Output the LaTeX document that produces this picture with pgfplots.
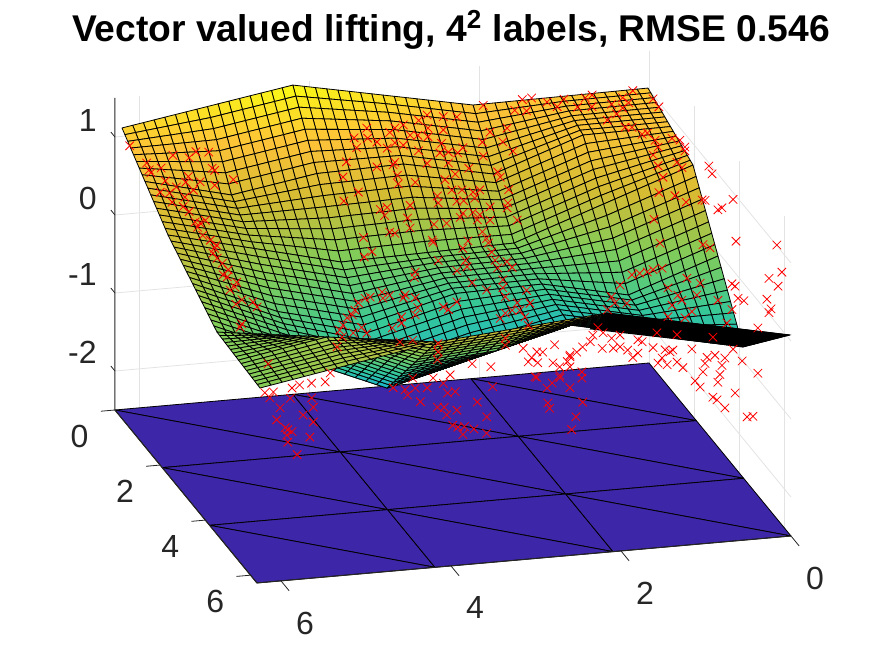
\documentclass[border=0pt]{standalone}
\usepackage{fontspec}
\setmainfont{Liberation Sans}
\usepackage{pgfplots}
\usepgfplotslibrary{patchplots}
\pgfplotsset{compat=1.18}
\definecolor{TickGray}{HTML}{262626}
\pgfplotsset{
  colormap={parula}{
    rgb255=(62,38,168) rgb255=(72,82,244) rgb255=(45,135,247) rgb255=(18,177,214)
    rgb255=(55,200,151) rgb255=(129,204,89) rgb255=(212,188,51) rgb255=(254,195,56)
    rgb255=(249,251,21)
  }
}
\begin{document}
\begin{tikzpicture}
\path[use as bounding box] (-324.5pt,84pt) rectangle (113pt,-244pt);
\begin{axis}[
  at={(0pt,0pt)},anchor=origin,
  disabledatascaling,clip=false,
  x={(-42.5pt,-3.74pt)},y={(11.3pt,-13.765pt)},z={(0pt,39pt)},
  xmin=0,xmax=6.283,ymin=0,ymax=6.283,zmin=-2.5,zmax=1.5,
  point meta min=-2.5,point meta max=1.465,
  xtick={0,2,4,6},ytick={0,2,4,6},ztick={-2,-1,0,1},
  zticklabels={{-2},{-1},{0},{1}},
  grid=major,major grid style={gray!22,line width=0.4pt},
  axis line style={draw=none},
  tick pos=left,tick align=outside,major tick length=6.5pt,
  tick style={draw=none},
  ticklabel style={font=\fontsize{16}{16}\selectfont,text=TickGray},
  x tick label style={xshift=4.5pt,yshift=-6.5pt},
  y tick label style={xshift=-3pt,yshift=-3.5pt},
  z tick label style={xshift=-1.5pt,yshift=0pt},
  /pgf/number format/assume math mode=true,
]
% label plane
\addplot3[patch,patch type=triangle,shader=faceted,faceted color=black,line width=0.4pt,
  table/row sep=\\,
  patch table={0 1 5\\0 4 5\\1 2 6\\1 5 6\\2 3 7\\2 6 7\\4 5 9\\4 8 9\\5 6 10\\5 9 10\\6 7 11\\6 10 11\\8 9 13\\8 12 13\\9 10 14\\9 13 14\\10 11 15\\10 14 15\\},
  point meta=\thisrow{z}]
  table[row sep=\\]{
  x y z\\
  6.283 0 -2.5\\4.189 0 -2.5\\2.094 0 -2.5\\0 0 -2.5\\
  6.283 2.094 -2.5\\4.189 2.094 -2.5\\2.094 2.094 -2.5\\0 2.094 -2.5\\
  6.283 4.189 -2.5\\4.189 4.189 -2.5\\2.094 4.189 -2.5\\0 4.189 -2.5\\
  6.283 6.283 -2.5\\4.189 6.283 -2.5\\2.094 6.283 -2.5\\0 6.283 -2.5\\
  };
% lifted surface, cells listed far to near
\addplot3[patch,patch type=bilinear,patch refines=3,shader=faceted,faceted color=black,line width=0.4pt,
  table/row sep=\\,
  patch table={
    5 6 13 12\\4 5 12 11\\12 13 20 19\\11 12 19 18\\
    3 4 11 10\\2 3 10 9\\10 11 18 17\\9 10 17 16\\
    1 2 9 8\\0 1 8 7\\8 9 16 15\\7 8 15 14\\
    19 20 27 26\\18 19 26 25\\26 27 34 33\\25 26 33 32\\
    17 18 25 24\\16 17 24 23\\24 25 32 31\\23 24 31 30\\
    15 16 23 22\\14 15 22 21\\22 23 30 29\\21 22 29 28\\
    33 34 41 40\\32 33 40 39\\40 41 48 47\\39 40 47 46\\
    31 32 39 38\\31 38 51 30\\39 46 52 38\\37 30 51 38\\37 38 45 44\\45 38 52 46\\
    29 30 37 36\\29 36 49 28\\37 44 50 36\\35 28 49 36\\35 36 43 42\\43 36 50 44\\},
  point meta=\thisrow{z}]
  table[row sep=\\]{
  x y z\\
  6.2 0 1.108\\5.195 0 1.2865\\4.19 0 1.465\\3.13 0 1.2355\\2.07 0 1.006\\1.041 0 1.016\\0.012 0 1.026\\
  6.207 1.045 0.791\\5.19 1.045 0.5205\\4.185 1.045 0.699\\3.167 1.045 0.723\\2.107 1.045 0.4935\\1.054 1.045 0.8925\\0.025 1.045 0.9025\\
  6.214 2.09 0.474\\5.197 2.09 0.2035\\4.179 2.09 -0.067\\3.161 2.09 -0.043\\2.143 2.09 -0.019\\1.09 2.09 0.38\\0.038 2.09 0.779\\
  6.205 3.14 0.2215\\5.205 3.14 -0.233\\4.188 3.14 -0.5035\\2.95 2.53 -0.4335\\1.93 2.53 -0.41\\1.076 3.14 -0.417\\0.023 3.14 -0.018\\
  6.196 4.19 -0.031\\5.196 4.19 -0.4855\\4.196 4.19 -0.94\\2.958 3.58 -0.87\\1.72 2.97 -0.8\\0.864 3.58 -0.8075\\0.008 4.19 -0.815\\
  6.222 5.237 -0.0175\\5.181 5.237 0.178\\4.18 5.237 -0.2765\\3.181 5.237 -0.1865\\1.943 4.627 -0.1165\\0.866 4.627 -0.361\\0.01 5.237 -0.3685\\
  6.247 6.283 -0.004\\5.206 6.283 0.1915\\4.165 6.283 0.387\\3.165 6.283 0.477\\2.165 6.283 0.567\\1.089 6.283 0.3225\\0.012 6.283 0.078\\
  5.6885 4.7135 0.0735\\4.673 5.76 0.2825\\3.6885 4.7135 -0.563\\2.673 5.76 0.19\\
  };
% edge-on part of the surface
\addplot3[fill=black,draw=black,line width=0.3pt] coordinates {(1.81,4.19,-0.416)(2.165,6.283,0.567)(0.012,6.283,0.078)(0.008,4.19,-0.815)};
% samples
\addplot3[only marks,mark=x,mark size=3pt,red,mark options={line width=0.38pt}] table {
6.11 0 .87
5.91 0 .63
5.88 0 .54
5.86 0 .50
5.74 0 .55
5.60 0 .70
5.41 0 .65
5.33 0 .72
5.18 0 .70
5.14 0 .49
5.11 0 .46
4.89 0 .32
5.11 0 .27
5.28 0 .33
5.42 0 .41
5.45 0 .34
5.69 0 .38
5.56 0 .29
5.75 0 .24
5.64 0 .22
5.36 0 .23
5.46 0 .15
5.61 0 .10
5.48 0 .03
5.41 0 -.04
5.34 0 -.18
5.28 0 -.20
5.22 0 -.17
5.31 0 -.25
5.25 0 -.36
5.16 0 -.43
5.11 0 -.54
5.13 0 -.60
5.08 0 -.67
5.09 0 -.50
5.02 0 -.74
4.95 0 -.83
5.01 0 -.89
4.96 0 -.92
4.85 0 -1.00
4.87 0 -1.06
4.93 0 -1.09
4.79 0 -1.23
4.86 0 -1.28
4.66 0 -1.27
4.61 0 -1.34
4.79 0 -1.54
4.81 0 -1.58
4.48 0 -2.08
3.67 0 -1.94
3.64 0 -1.73
3.55 0 -1.58
3.60 0 -1.67
3.60 0 .23
3.56 0 .42
3.59 0 -.08
3.47 0 .72
3.32 0 .83
3.31 0 .70
3.44 0 .59
3.20 0 .64
3.05 0 .75
2.99 0 .80
2.89 0 .83
3.08 0 .55
2.99 0 .61
2.89 0 .57
2.81 0 .69
2.72 0 .68
2.71 0 .87
2.61 0 .93
2.42 0 .89
2.26 0 .87
2.60 0 .76
2.60 0 .65
2.42 0 .72
2.71 0 .48
2.44 0 .55
2.46 0 .43
2.36 0 .43
2.25 0 .41
2.19 0 .47
2.36 0 .29
2.61 0 .31
2.99 0 .36
3.01 0 .33
2.96 0 .19
2.95 0 .08
2.75 0 .08
3.20 0 .32
3.42 0 .02
2.28 0 .14
2.40 0 .08
2.32 0 -.06
2.49 0 -.12
2.48 0 -.21
2.26 0 -.21
2.18 0 -.21
2.20 0 -.07
2.07 0 -.11
1.99 0 -.09
2.05 0 -.19
2.12 0 .20
3.16 0 -.23
3.08 0 -.21
3.11 0 -.31
2.81 0 -.21
2.84 0 -.37
2.81 0 -.50
3.05 0 -.53
2.99 0 -.55
3.36 0 -.57
2.53 0 -.48
2.38 0 -.48
2.55 0 -.68
2.22 0 -.42
2.19 0 -.37
2.07 0 -.37
1.99 0 -.41
2.02 0 -.47
1.87 0 -.32
1.87 0 -.49
1.96 0 -.63
1.91 0 -.72
2.13 0 -.73
1.95 0 .99
1.87 0 .64
1.96 0 .52
1.95 0 .34
1.67 0 .67
1.72 0 .50
1.60 0 .37
1.78 0 .12
1.75 0 .05
1.65 0 -.12
1.66 0 -.29
1.67 0 -.35
1.55 0 -.52
1.49 0 1.02
1.38 0 1.03
1.58 0 .89
1.44 0 .87
1.20 0 .96
1.08 0 .89
1.00 0 .98
.84 0 .86
.67 0 1.00
.75 0 .97
.44 0 .86
.31 0 .93
.24 0 .86
.31 0 .80
.67 0 .85
.19 0 1.01
.38 0 .73
.49 0 .66
.28 0 .55
.20 0 .54
.08 0 .44
.02 0 .45
0 .18 .95
0 .44 .94
0 .27 .45
0 .40 .41
0 .18 .23
0 1.02 .74
0 1.37 .84
0 1.59 .83
0 1.59 .78
0 1.24 .51
0 1.46 .52
0 .40 .17
0 .62 .10
0 .44 -.16
0 1.15 .05
0 1.64 .14
0 2.35 .42
0 2.48 .46
0 .22 -.58
0 .49 -.79
0 2.65 .96
0 2.79 .91
0 3.72 .91
0 3.05 .54
0 3.23 .63
0 3.85 .42
0 2.39 -.14
0 2.70 -.07
0 5.66 1.01
0 5.88 .74
0 5.31 .46
0 5.71 .50
0 3.67 -.19
0 3.81 -.17
0 3.94 -.28
0 4.20 -.22
0 5.22 .16
0 5.40 .10
0 5.31 .02
0 4.82 -.35
0 .18 -1.24
0 .58 -1.08
0 1.68 -.82
0 2.26 -.68
0 .84 -1.24
0 1.28 -1.18
0 1.46 -1.18
0 2.12 -.88
0 1.02 -1.40
0 3.05 -.62
0 3.67 -.52
0 1.90 -1.17
0 1.59 -1.36
0 .84 -1.61
0 3.45 -.77
0 1.24 -1.70
0 2.83 -1.17
0 .35 -1.99
0 .18 -2.24
0 .71 -2.08
0 .58 -2.23
0 .93 -2.03
0 1.06 -1.96
0 .40 -2.36
0 .80 -2.24
0 1.24 -2.05
0 1.50 -2.03
0 1.90 -1.65
0 2.57 -1.52
0 2.92 -1.37
0 2.48 -1.63
0 2.39 -1.77
0 3.36 -1.25
0 3.23 -1.39
0 3.72 -1.01
0 4.12 -1.02
0 4.82 -.93
0 2.04 -2.01
0 2.26 -2.01
0 3.14 -1.54
0 3.05 -1.67
0 2.83 -1.94
0 3.01 -1.91
0 3.81 -1.54
0 3.36 -1.89
0 4.34 -1.66
0 4.60 -1.56
.20 0 -1.35
.11 0 -1.34
.02 0 -1.33
.34 0 -1.47
.44 0 -1.61
.26 0 -1.71
.40 0 -1.69
.49 0 -1.77
3.26 0 -.76
3.35 0 -.82
2.54 0 -.71
2.19 0 -.82
2.48 0 -.95
2.16 0 -.98
2.14 0 -1.06
2.26 0 -1.10
2.75 0 -1.07
2.76 0 -1.14
2.08 0 -1.27
1.91 0 -1.38
1.89 0 -.78
1.85 0 -.90
1.81 0 -1.01
1.78 0 -1.11
1.67 0 -1.04
1.61 0 -1.12
1.72 0 -1.27
1.72 0 -1.37
1.69 0 -1.49
1.44 0 -1.43
1.40 0 -1.60
1.55 0 -1.58
1.61 0 -1.67
1.52 0 -1.68
1.69 0 -1.70
1.46 0 -1.77
1.42 0 -1.88
1.75 0 -1.76
3.28 0 -1.34
3.34 0 -1.35
3.14 0 -1.29
3.13 0 -1.37
3.05 0 -1.34
2.87 0 -1.35
2.89 0 -1.39
2.75 0 -1.40
2.72 0 -1.53
2.75 0 -1.62
2.91 0 -1.63
2.91 0 -1.71
3.02 0 -1.76
3.42 0 -1.40
3.46 0 -1.49
3.49 0 -1.55
3.38 0 -1.72
3.32 0 -1.80
3.48 0 -1.78
3.61 0 -1.82
2.42 0 -1.55
2.36 0 -1.59
2.26 0 -1.50
2.78 0 -1.94
2.93 0 -1.95
2.48 0 -2.01
2.48 0 -2.12
2.49 0 -2.22
2.08 0 -2.31
1.86 0 -2.37
1.69 0 -2.02
1.69 0 -2.11
1.48 0 -2.17
1.38 0 -2.30
1.32 0 -2.23
1.25 0 -2.24
1.42 0 -2.35
1.31 0 -2.37
1.11 0 -2.16
1.13 0 -2.39
.93 0 -2.31
.85 0 -2.28
.96 0 -2.39
1.05 0 -2.45
.93 0 -2.33
.78 0 -2.22
.69 0 -2.16
.66 0 -2.08
.60 0 -1.99
.54 0 -2.06
.44 0 -2.14
.34 0 -2.11
.55 0 -2.26
.42 0 -2.27
.34 0 -2.26
.25 0 -2.31
.13 0 -2.19
.08 0 -2.22
.13 0 -2.36
.19 0 -2.41
.93 0 -2.46
6.19 6.283 -.07
6.13 6.283 -.14
5.87 6.283 -.04
5.78 6.283 -.01
5.64 6.283 .00
5.48 6.283 .00
5.42 6.283 .11
5.89 6.283 -.17
5.64 6.283 -.19
5.62 6.283 -.31
6.01 6.283 -.28
6.05 6.283 -.43
5.74 6.283 -.40
5.62 6.283 -.50
5.95 6.283 -.54
5.92 6.283 -.57
5.93 6.283 -.64
5.87 6.283 -.60
5.92 6.283 -.73
5.66 6.283 -.69
5.81 6.283 -.90
4.68 6.283 -.15
4.54 6.283 -.19
4.45 6.283 -.05
4.51 6.283 -.26
4.28 6.283 -.19
4.21 6.283 -.07
4.09 6.283 -.15
4.04 6.283 -.28
3.95 6.283 -.27
4.36 6.283 -.36
4.16 6.283 -.45
4.08 6.283 -.46
4.05 6.283 -.56
3.93 6.283 -.51
3.69 6.283 -.43
3.58 6.283 -.63
3.98 6.283 -.70
3.92 6.283 -.73
3.84 6.283 -.73
3.86 6.283 -.83
3.73 6.283 -.77
3.58 6.283 -.84
3.51 6.283 -.25
3.01 6.283 -.17
2.87 6.283 -.33
2.72 6.283 -.18
2.81 6.283 -.27
2.60 6.283 -.35
2.46 6.283 -.24
2.86 6.283 -.52
2.84 6.283 -.59
2.45 6.283 -.55
2.53 6.283 -.73
2.58 6.283 -.89
2.46 6.283 -.16
4.01 6.283 -.05
4.42 6.283 -.18
2.99 6.283 -.18
2.72 6.283 -.21
6.09 6.283 -.07
};
% box edges that MATLAB keeps
\addplot3[TickGray,line width=0.5pt] coordinates {(6.283,0,1.5)(6.283,0,-2.5)(6.283,6.283,-2.5)(0,6.283,-2.5)};
% tick marks on those edges only
\addplot3[TickGray,line width=0.4pt,unbounded coords=jump] coordinates {
  (0,6.283,-2.5)(0,6.643,-2.5)(nan,nan,nan)(2,6.283,-2.5)(2,6.643,-2.5)(nan,nan,nan)
  (4,6.283,-2.5)(4,6.643,-2.5)(nan,nan,nan)(6,6.283,-2.5)(6,6.643,-2.5)(nan,nan,nan)
  (6.283,0,-2.5)(6.448,0,-2.5)(nan,nan,nan)(6.283,2,-2.5)(6.448,2,-2.5)(nan,nan,nan)
  (6.283,4,-2.5)(6.448,4,-2.5)(nan,nan,nan)(6.283,6,-2.5)(6.448,6,-2.5)(nan,nan,nan)
  (6.283,0,-2)(6.283,-0.18,-2)(nan,nan,nan)(6.283,0,-1)(6.283,-0.18,-1)(nan,nan,nan)
  (6.283,0,0)(6.283,-0.18,0)(nan,nan,nan)(6.283,0,1)(6.283,-0.18,1)
};
\end{axis}
\node[font=\bfseries\fontsize{18.6}{18.6}\selectfont] at (-99pt,69pt) {Vector valued lifting, 4$^{\mathbf{2}}$ labels, RMSE 0.546};
\end{tikzpicture}
\end{document}
